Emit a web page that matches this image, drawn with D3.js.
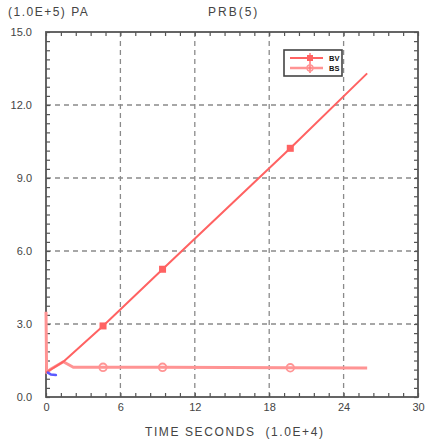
<!DOCTYPE html>
<html>
<head>
<meta charset="utf-8">
<script src="https://cdn.jsdelivr.net/npm/d3@7"></script>
<style>
  body { margin: 0; background: #fff; }
  svg { display: block; font-family: "Liberation Sans", Arial, sans-serif; }
</style>
</head>
<body>
<svg id="chart" width="428" height="445"></svg>
<script>
// Pressure history PRB(5): time in units of 1.0E+4 s, pressure in units of 1.0E+5 Pa
const xTicks = [0, 6, 12, 18, 24, 30];
const yTicks = [0, 3, 6, 9, 12, 15];
const yTickLabels = ["0.0", "3.0", "6.0", "9.0", "12.0", "15.0"];

const seriesNames = ["BV", "BS"];

// series 1 (square markers)
const s1Time = [0.0, 0.3, 1.4, 4.6, 9.4, 19.7, 25.9];
const s1Value = [1.0, 1.1, 1.45, 2.92, 5.25, 10.22, 13.3];
const s1MarkTime = [4.6, 9.4, 19.7];

// series 2 (circle markers)
const s2Time = [0.0, 0.05, 0.4, 1.4, 2.2, 4.6, 9.4, 19.7, 25.9];
const s2Value = [3.5, 1.0, 1.15, 1.45, 1.22, 1.22, 1.22, 1.2, 1.19];
const s2MarkTime = [4.6, 9.4, 19.7];

// series 3 (short blue trace near t = 0)
const s3Time = [0.15, 0.4, 0.8];
const s3Value = [1.0, 0.92, 0.9];

const svg = d3.select("#chart");
const pLeft = 46, pRight = 418, pTop = 32, pBottom = 397;

const x = d3.scaleLinear().domain([0, 30]).range([pLeft, pRight]);
const y = d3.scaleLinear().domain([0, 15]).range([pBottom, pTop]);

const minorX = d3.range(0, 30.001, 1.2);
const minorY = d3.range(0, 15.001, 0.375);

// dashed grid at major ticks
const grid = svg.append("g").attr("stroke", "#8a8a8a").attr("stroke-width", 1.3)
  .attr("stroke-dasharray", "5,4");
grid.selectAll("line.gx").data(xTicks.slice(1, -1)).join("line")
  .attr("x1", d => x(d)).attr("x2", d => x(d)).attr("y1", pTop).attr("y2", pBottom);
grid.selectAll("line.gy").data(yTicks.slice(1, -1)).join("line")
  .attr("y1", d => y(d)).attr("y2", d => y(d)).attr("x1", pLeft).attr("x2", pRight);

// inward minor ticks on all four sides
const axisColor = "#555";
function tickAxis(axis, transform) {
  const g = svg.append("g").attr("transform", transform).call(axis);
  g.selectAll("path.domain").remove();
  g.selectAll("line").attr("stroke", axisColor).attr("stroke-width", 1.2);
  g.selectAll("text").remove();
}
tickAxis(d3.axisBottom(x).tickValues(minorX).tickSize(-4), `translate(0,${pBottom})`);
tickAxis(d3.axisTop(x).tickValues(minorX).tickSize(-4), `translate(0,${pTop})`);
tickAxis(d3.axisLeft(y).tickValues(minorY).tickSize(-4), `translate(${pLeft},0)`);
tickAxis(d3.axisRight(y).tickValues(minorY).tickSize(-4), `translate(${pRight},0)`);

// tick labels
const labelColor = "#444";
const xLab = svg.append("g").attr("transform", `translate(0,${pBottom})`)
  .call(d3.axisBottom(x).tickValues(xTicks).tickFormat(d3.format("d")).tickSize(0).tickPadding(6));
xLab.select("path.domain").remove();
xLab.selectAll("text").attr("fill", labelColor).attr("font-size", 11)
  .attr("font-family", "Liberation Sans, Arial, sans-serif");

const yLab = svg.append("g").attr("transform", `translate(${pLeft},0)`)
  .call(d3.axisLeft(y).tickValues(yTicks).tickFormat((d, i) => yTickLabels[i]).tickSize(0).tickPadding(14));
yLab.select("path.domain").remove();
yLab.selectAll("text").attr("fill", labelColor).attr("font-size", 11)
  .attr("font-family", "Liberation Sans, Arial, sans-serif");

// plot frame
svg.append("rect").attr("x", pLeft).attr("y", pTop)
  .attr("width", pRight - pLeft).attr("height", pBottom - pTop)
  .attr("fill", "none").attr("stroke", "#555").attr("stroke-width", 1.8);

// data lines
const line = d3.line().x(d => x(d[0])).y(d => y(d[1]));
const s1 = d3.zip(s1Time, s1Value);
const s2 = d3.zip(s2Time, s2Value);
const s3 = d3.zip(s3Time, s3Value);

svg.append("path").datum(s2).attr("d", line).attr("fill", "none")
  .attr("stroke", "#ff9494").attr("stroke-width", 3).attr("stroke-linejoin", "round");
svg.append("path").datum(s1).attr("d", line).attr("fill", "none")
  .attr("stroke", "#ff6262").attr("stroke-width", 2).attr("stroke-linejoin", "round");
svg.append("path").datum(s3).attr("d", line).attr("fill", "none")
  .attr("stroke", "#5a5aff").attr("stroke-width", 2.5).attr("stroke-linecap", "round");

// markers
const interp1 = t => d3.scaleLinear().domain(s1Time).range(s1Value)(t);
const interp2 = t => d3.scaleLinear().domain(s2Time.slice(1)).range(s2Value.slice(1))(t);
svg.append("g").selectAll("rect").data(s1MarkTime).join("rect")
  .attr("x", d => x(d) - 3.5).attr("y", d => y(interp1(d)) - 3.5)
  .attr("width", 7).attr("height", 7).attr("fill", "#ff6262");
svg.append("g").selectAll("circle").data(s2MarkTime).join("circle")
  .attr("cx", d => x(d)).attr("cy", d => y(interp2(d))).attr("r", 3.8)
  .attr("fill", "none").attr("stroke", "#ff9494").attr("stroke-width", 1.8);

// legend
const lg = svg.append("g").attr("transform", "translate(284,50)");
lg.append("rect").attr("width", 58).attr("height", 26)
  .attr("fill", "#fff").attr("stroke", "#444").attr("stroke-width", 1.6);
lg.append("line").attr("x1", 6).attr("x2", 39).attr("y1", 8).attr("y2", 8)
  .attr("stroke", "#ff6262").attr("stroke-width", 2);
lg.append("line").attr("x1", 6).attr("x2", 39).attr("y1", 18).attr("y2", 18)
  .attr("stroke", "#ff9494").attr("stroke-width", 2.4);
lg.append("line").attr("x1", 26).attr("x2", 26).attr("y1", 3).attr("y2", 23)
  .attr("stroke", "#ff7a7a").attr("stroke-width", 1.5);
lg.append("rect").attr("x", 23).attr("y", 5).attr("width", 6).attr("height", 6).attr("fill", "#ff6262");
lg.append("circle").attr("cx", 26).attr("cy", 18).attr("r", 3).attr("fill", "none")
  .attr("stroke", "#ff9494").attr("stroke-width", 1.4);
lg.selectAll("text").data(seriesNames).join("text")
  .attr("x", 45).attr("y", (d, i) => 10.5 + i * 10).attr("font-size", 7.5).attr("font-weight", "bold")
  .attr("fill", "#111").text(d => d);

// titles
svg.append("text").attr("x", 8).attr("y", 16).attr("font-size", 12).attr("fill", labelColor)
  .attr("letter-spacing", 1.5).text("(1.0E+5) PA");
svg.append("text").attr("x", 208).attr("y", 16).attr("font-size", 12).attr("fill", labelColor)
  .attr("letter-spacing", 2).text("PRB(5)");
svg.append("text").attr("x", 145).attr("y", 436).attr("font-size", 12).attr("fill", labelColor)
  .attr("letter-spacing", 1.6).attr("xml:space", "preserve").text("TIME SECONDS  (1.0E+4)");
</script>
</body>
</html>
